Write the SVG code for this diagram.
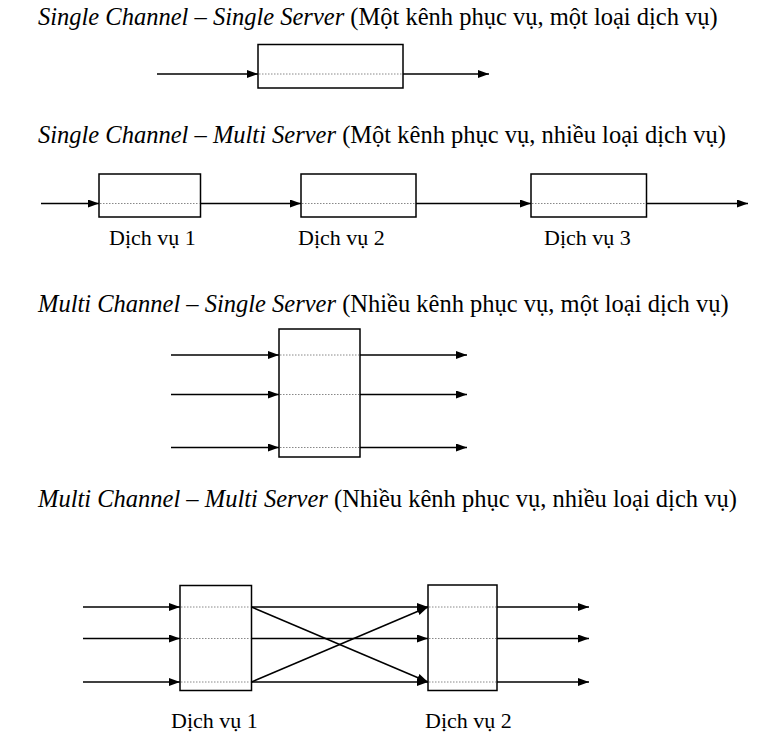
<svg xmlns="http://www.w3.org/2000/svg" width="760" height="747" viewBox="0 0 760 747">
<defs>
<marker id="ah" viewBox="0 0 11 8" refX="11" refY="4" markerWidth="11" markerHeight="8" markerUnits="userSpaceOnUse" orient="auto"><path d="M0,0 L11,4 L0,8 Z" fill="#000"/></marker>
</defs>
<rect width="760" height="747" fill="#fff"/>
<g id="titles" font-family="'Liberation Serif', 'Times New Roman', serif" font-size="24.5" fill="#000">
<text x="38" y="25"><tspan font-style="italic">Single Channel – Single Server</tspan> (Một kênh phục vụ, một loại dịch vụ)</text>
<text x="38" y="143"><tspan font-style="italic">Single Channel – Multi Server</tspan> (Một kênh phục vụ, nhiều loại dịch vụ)</text>
<text x="38" y="312"><tspan font-style="italic">Multi Channel – Single Server</tspan> (Nhiều kênh phục vụ, một loại dịch vụ)</text>
<text x="38" y="507"><tspan font-style="italic">Multi Channel – Multi Server</tspan> (Nhiều kênh phục vụ, nhiều loại dịch vụ)</text>
</g>
<g id="connectors" stroke="#000" stroke-width="1.5" fill="none" marker-end="url(#ah)">
<line x1="157" y1="74" x2="258" y2="74"/>
<line x1="403" y1="74" x2="489" y2="74"/>
<line x1="41" y1="203.5" x2="99" y2="203.5"/>
<line x1="200.5" y1="203.5" x2="301" y2="203.5"/>
<line x1="416" y1="203.5" x2="531" y2="203.5"/>
<line x1="646.5" y1="203.5" x2="748" y2="203.5"/>
<line x1="171" y1="355" x2="279" y2="355"/>
<line x1="171" y1="394.5" x2="279" y2="394.5"/>
<line x1="171" y1="447.5" x2="279" y2="447.5"/>
<line x1="360" y1="355" x2="467" y2="355"/>
<line x1="360" y1="394.5" x2="467" y2="394.5"/>
<line x1="360" y1="447.5" x2="467" y2="447.5"/>
<line x1="83" y1="607" x2="180" y2="607"/>
<line x1="83" y1="638.5" x2="180" y2="638.5"/>
<line x1="83" y1="682" x2="180" y2="682"/>
<line x1="251.5" y1="607" x2="428" y2="607"/>
<line x1="251.5" y1="638.5" x2="428" y2="638.5"/>
<line x1="251.5" y1="682" x2="428" y2="682"/>
<line x1="251.5" y1="607" x2="428" y2="682"/>
<line x1="251.5" y1="682" x2="428" y2="607"/>
<line x1="497" y1="607" x2="589" y2="607"/>
<line x1="497" y1="638.5" x2="589" y2="638.5"/>
<line x1="497" y1="682" x2="589" y2="682"/>
</g>
<g id="nodes" font-family="'Liberation Serif', 'Times New Roman', serif" font-size="22" fill="#000">
<g id="n1">
<rect x="258" y="44.5" width="145" height="43.5" fill="#fff" stroke="#000" stroke-width="1.5"/>
<line x1="259" y1="74" x2="402" y2="74" stroke="#888" stroke-dasharray="1.5 1.5"/>
</g>
<g id="n2a">
<rect x="99" y="174" width="101.5" height="43" fill="#fff" stroke="#000" stroke-width="1.5"/>
<line x1="100" y1="203.5" x2="199.5" y2="203.5" stroke="#888" stroke-dasharray="1.5 1.5"/>
<text x="109" y="245">Dịch vụ 1</text>
</g>
<g id="n2b">
<rect x="301" y="174" width="115" height="43" fill="#fff" stroke="#000" stroke-width="1.5"/>
<line x1="302" y1="203.5" x2="415" y2="203.5" stroke="#888" stroke-dasharray="1.5 1.5"/>
<text x="298" y="245">Dịch vụ 2</text>
</g>
<g id="n2c">
<rect x="531" y="174" width="115.5" height="43" fill="#fff" stroke="#000" stroke-width="1.5"/>
<line x1="532" y1="203.5" x2="645.5" y2="203.5" stroke="#888" stroke-dasharray="1.5 1.5"/>
<text x="544" y="245">Dịch vụ 3</text>
</g>
<g id="n3">
<rect x="279" y="329" width="81" height="128" fill="#fff" stroke="#000" stroke-width="1.5"/>
<line x1="280" y1="355" x2="359" y2="355" stroke="#888" stroke-dasharray="1.5 1.5"/>
<line x1="280" y1="394.5" x2="359" y2="394.5" stroke="#888" stroke-dasharray="1.5 1.5"/>
<line x1="280" y1="447.5" x2="359" y2="447.5" stroke="#888" stroke-dasharray="1.5 1.5"/>
</g>
<g id="n4a">
<rect x="180" y="585.5" width="71.5" height="105" fill="#fff" stroke="#000" stroke-width="1.5"/>
<line x1="181" y1="607" x2="250.5" y2="607" stroke="#888" stroke-dasharray="1.5 1.5"/>
<line x1="181" y1="638.5" x2="250.5" y2="638.5" stroke="#888" stroke-dasharray="1.5 1.5"/>
<line x1="181" y1="682" x2="250.5" y2="682" stroke="#888" stroke-dasharray="1.5 1.5"/>
<text x="171" y="728">Dịch vụ 1</text>
</g>
<g id="n4b">
<rect x="428" y="585" width="69" height="105.5" fill="#fff" stroke="#000" stroke-width="1.5"/>
<line x1="429" y1="607" x2="496" y2="607" stroke="#888" stroke-dasharray="1.5 1.5"/>
<line x1="429" y1="638.5" x2="496" y2="638.5" stroke="#888" stroke-dasharray="1.5 1.5"/>
<line x1="429" y1="682" x2="496" y2="682" stroke="#888" stroke-dasharray="1.5 1.5"/>
<text x="425" y="728">Dịch vụ 2</text>
</g>
</g>
</svg>
